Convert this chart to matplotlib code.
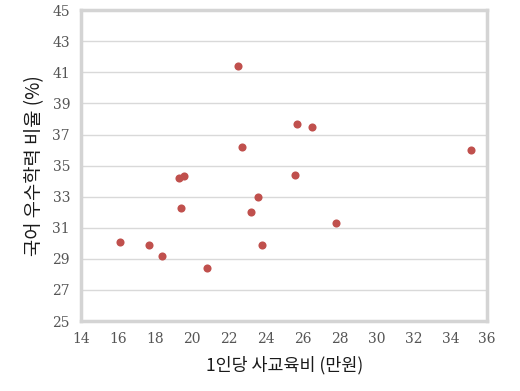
import matplotlib
matplotlib.use("Agg")
import matplotlib.pyplot as plt

# 1인당 사교육비 (만원) vs 국어 우수학력 비율 (%)
spending = [22.5, 22.7, 19.3, 19.6, 25.7, 26.5, 35.1, 25.6, 23.6,
            19.4, 23.2, 16.1, 17.7, 18.4, 20.8, 23.8, 27.8]
korean_rate = [41.4, 36.2, 34.2, 34.3, 37.7, 37.5, 36.0, 34.4, 33.0,
               32.3, 32.0, 30.1, 29.9, 29.2, 28.4, 29.9, 31.3]

xticks = list(range(14, 37, 2))
yticks = list(range(25, 46, 2))

plt.rcParams['font.family'] = ['Noto Sans CJK KR', 'DejaVu Sans']

fig = plt.figure(figsize=(5.2, 3.91), dpi=100)
ax = fig.add_axes([0.156, 0.179, 0.781, 0.795])

ax.scatter(spending, korean_rate, s=34, color='#C0504D', zorder=3, linewidths=0)

ax.set_xlim(14, 36)
ax.set_ylim(25, 45)
ax.set_xticks(xticks)
ax.set_yticks(yticks)
ax.grid(axis='y', color='#d9d9d9', linewidth=1)
ax.set_axisbelow(True)

for sp in ax.spines.values():
    sp.set_color('#d4d4d4')
    sp.set_linewidth(2.5)

ax.tick_params(length=0, colors='#555555', pad=8)
for lab in ax.get_xticklabels() + ax.get_yticklabels():
    lab.set_family(['DejaVu Serif'])
    lab.set_fontsize(10)
    lab.set_color('#555555')

ax.set_xlabel('1인당 사교육비 (만원)', fontsize=12.5, labelpad=7, color='#1a1a1a')
ax.set_ylabel('국어 우수학력 비율 (%)', fontsize=13.5, labelpad=5, color='#1a1a1a')

fig.savefig('out.png', dpi=100)
